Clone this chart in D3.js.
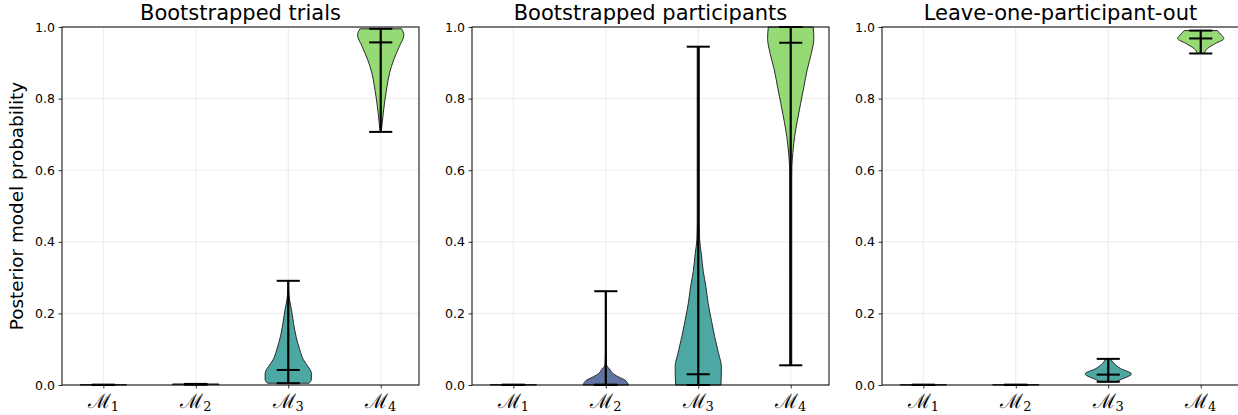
<!DOCTYPE html>
<html>
<head>
<meta charset="utf-8">
<script src="https://cdn.jsdelivr.net/npm/d3@7"></script>
<style>
  body { margin: 0; background: #fff; }
  text { font-family: "DejaVu Sans", sans-serif; fill: #000; }
</style>
</head>
<body>
<svg id="chart" width="1238" height="415"></svg>
<script>
// panel titles and model labels
const titles = ["Bootstrapped trials", "Bootstrapped participants", "Leave-one-participant-out"];
const models = ["1", "2", "3", "4"];
const modelColors = ["#440154", "#3b528b", "#21918c", "#7ad151"];
const yTicks = [0, 0.2, 0.4, 0.6, 0.8, 1.0];

// extrema and medians, per panel, per model
const mins    = [[0, 0.001, 0.005, 0.707], [0, 0, 0, 0.055], [0, 0, 0.009, 0.926]];
const maxs    = [[0.001, 0.003, 0.291, 0.995], [0.001, 0.262, 0.945, 1.0], [0.001, 0.001, 0.073, 0.99]];
const medians = [[0, 0.002, 0.042, 0.957], [0, 0.001, 0.03, 0.956], [0, 0, 0.029, 0.968]];

// violin outlines: [value, relative half width]
const profiles = [
  [
    [[0, 1], [0.001, 1]],
    [[0.001, 1], [0.003, 1]],
    [[0.005, 0.9], [0.015, 1], [0.033, 1], [0.051, 0.86], [0.07, 0.66], [0.098, 0.5], [0.135, 0.34],
     [0.172, 0.23], [0.21, 0.14], [0.237, 0.06], [0.265, 0.015], [0.291, 0.005]],
    [[0.707, 0.02], [0.712, 0.03], [0.759, 0.11], [0.796, 0.18], [0.833, 0.27], [0.871, 0.38], [0.908, 0.56],
     [0.945, 0.8], [0.978, 1], [0.995, 0.9]]
  ],
  [
    [[0, 1], [0.001, 1]],
    [[0, 0.98], [0.014, 0.82], [0.023, 0.54], [0.033, 0.29], [0.042, 0.19], [0.049, 0.1], [0.056, 0.03],
     [0.1, 0.012], [0.262, 0.01]],
    [[0, 0.98], [0.051, 1], [0.088, 0.88], [0.135, 0.71], [0.18, 0.57], [0.228, 0.43], [0.275, 0.33],
     [0.32, 0.21], [0.368, 0.13], [0.405, 0.06], [0.45, 0.045], [0.7, 0.045], [0.945, 0.045]],
    [[0.055, 0.045], [0.3, 0.045], [0.58, 0.045], [0.61, 0.05], [0.647, 0.09], [0.694, 0.17], [0.74, 0.29],
     [0.787, 0.43], [0.833, 0.57], [0.88, 0.71], [0.926, 0.89], [0.968, 1], [1.0, 0.97]]
  ],
  [
    [[0, 1], [0.001, 1]],
    [[0, 1], [0.001, 1]],
    [[0.009, 0.35], [0.014, 0.5], [0.031, 1], [0.046, 0.53], [0.06, 0.25], [0.073, 0.1]],
    [[0.926, 0.14], [0.94, 0.29], [0.954, 0.64], [0.968, 1], [0.978, 0.89], [0.99, 0.71]]
  ]
];

const svg = d3.select("#chart");
const panelLeft = [62, 472, 882];
const panelW = 357;
const plotTop = 27, plotBottom = 385;

let y = d3.scaleLinear().domain([0, 1]).range([plotBottom, plotTop]);

titles.forEach((title, p) => {
  let x = d3.scaleLinear()
    .domain([0.553, 4.414])
    .range([panelLeft[p], panelLeft[p] + panelW]);
  let g = svg.append("g");

  // grid
  g.selectAll(".hgrid").data(yTicks).enter().append("line")
    .attr("x1", panelLeft[p]).attr("x2", panelLeft[p] + panelW)
    .attr("y1", d => y(d)).attr("y2", d => y(d))
    .attr("stroke", "#e6e6e6").attr("stroke-width", 0.8);
  g.selectAll(".vgrid").data(models).enter().append("line")
    .attr("x1", (d, i) => x(i + 1)).attr("x2", (d, i) => x(i + 1))
    .attr("y1", plotTop).attr("y2", plotBottom)
    .attr("stroke", "#e6e6e6").attr("stroke-width", 0.8);

  // violins
  profiles[p].forEach((prof, i) => {
    let c = i + 1;
    let half = w => x(c + 0.25 * w) - x(c);
    let area = d3.area()
      .curve(d3.curveMonotoneY)
      .y(d => y(d[0]))
      .x0(d => x(c) - half(d[1]))
      .x1(d => x(c) + half(d[1]));
    g.append("path")
      .attr("d", area(prof))
      .attr("fill", modelColors[i])
      .attr("fill-opacity", 0.8)
      .attr("stroke", "#2a2a2a")
      .attr("stroke-width", 1);

    let capHalf = x(c + 0.125) - x(c);
    g.append("line")
      .attr("x1", x(c)).attr("x2", x(c))
      .attr("y1", y(mins[p][i])).attr("y2", y(maxs[p][i]))
      .attr("stroke", "#000").attr("stroke-width", 2.2);
    [mins[p][i], maxs[p][i], medians[p][i]].forEach(v => {
      g.append("line")
        .attr("x1", x(c) - capHalf).attr("x2", x(c) + capHalf)
        .attr("y1", y(v)).attr("y2", y(v))
        .attr("stroke", "#000").attr("stroke-width", 2);
    });
  });

  // axes
  let yAxis = d3.axisLeft(y).tickValues(yTicks).tickFormat(d3.format(".1f")).tickSize(3.5).tickPadding(3.5);
  let gy = g.append("g").attr("transform", `translate(${panelLeft[p]},0)`).call(yAxis);
  gy.select(".domain").remove();
  gy.selectAll("text").style("font-size", "12.5px").style("font-family", "DejaVu Sans");
  gy.selectAll("line").attr("stroke", "#000").attr("stroke-width", 0.8);

  let xAxis = d3.axisBottom(x).tickValues([1, 2, 3, 4]).tickFormat("").tickSize(3.5);
  let gx = g.append("g").attr("transform", `translate(0,${plotBottom})`).call(xAxis);
  gx.select(".domain").remove();
  gx.selectAll("line").attr("stroke", "#000").attr("stroke-width", 0.8);

  models.forEach((m, i) => {
    let t = g.append("text")
      .attr("x", x(i + 1)).attr("y", 408)
      .attr("text-anchor", "middle")
      .style("font-family", "DejaVu Serif, serif")
      .style("font-size", "20px");
    t.append("tspan").text("ℳ");
    t.append("tspan").text(m).attr("dy", 3).style("font-size", "13px");
  });

  // frame
  g.append("rect")
    .attr("x", panelLeft[p]).attr("y", plotTop)
    .attr("width", panelW).attr("height", plotBottom - plotTop)
    .attr("fill", "none").attr("stroke", "#000").attr("stroke-width", 1);

  g.append("text")
    .attr("x", panelLeft[p] + panelW / 2).attr("y", 20)
    .attr("text-anchor", "middle")
    .style("font-size", "21px")
    .text(title);
});

svg.append("text")
  .attr("transform", `translate(23,${(plotTop + plotBottom) / 2}) rotate(-90)`)
  .attr("text-anchor", "middle")
  .style("font-size", "18.4px")
  .text("Posterior model probability");
</script>
</body>
</html>
